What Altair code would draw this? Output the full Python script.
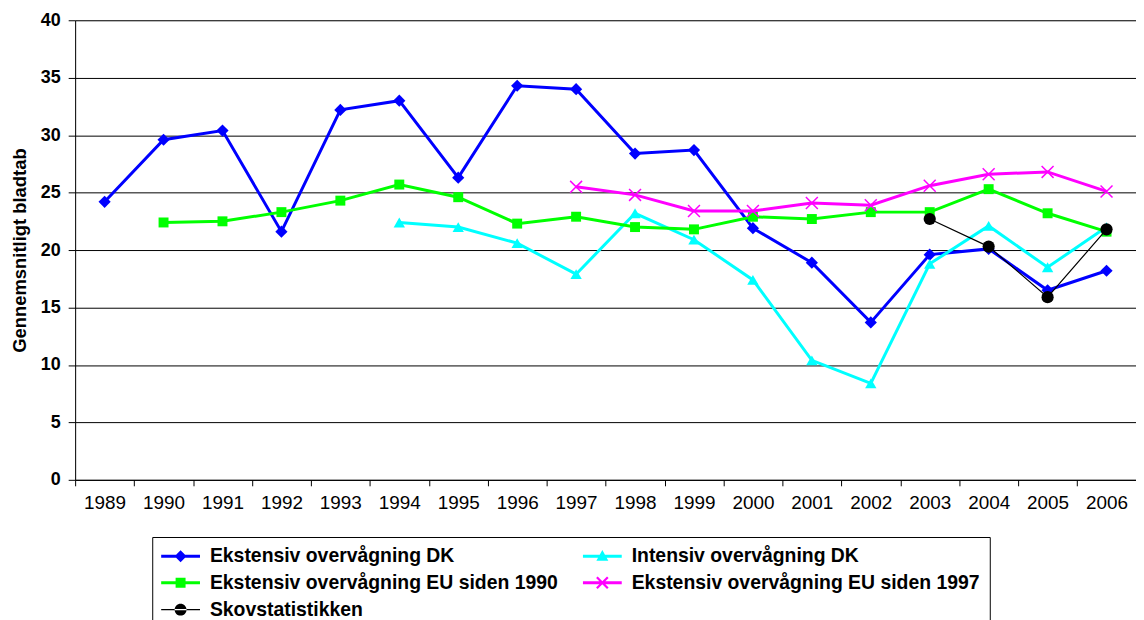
import altair as alt
import pandas as pd

years = list(range(1989, 2007))
series_names = [
    "Ekstensiv overvågning DK",
    "Intensiv overvågning DK",
    "Ekstensiv overvågning EU siden 1990",
    "Ekstensiv overvågning EU siden 1997",
    "Skovstatistikken",
]

ekst_dk = [24.2, 29.6, 30.4, 21.6, 32.2, 33.0, 26.3, 34.3, 34.0, 28.4, 28.7, 21.9, 18.9, 13.7, 19.6, 20.1, 16.5, 18.2]
intensiv_dk = [None] * 5 + [22.4, 22.0, 20.6, 17.9, 23.2, 20.9, 17.4, 10.4, 8.4, 18.8, 22.1, 18.5, 22.0]
eu_1990 = [None, 22.4, 22.5, 23.3, 24.3, 25.7, 24.6, 22.3, 22.9, 22.0, 21.8, 22.9, 22.7, 23.3, 23.3, 25.3, 23.2, 21.6]
eu_1997 = [None] * 8 + [25.5, 24.8, 23.4, 23.4, 24.1, 23.9, 25.6, 26.6, 26.8, 25.1]
skov = [None] * 14 + [22.7, 20.3, 15.9, 21.8]

y_ticks = [0, 5, 10, 15, 20, 25, 30, 35, 40]

colors = ["#0000FF", "#00FFFF", "#00FF00", "#FF00FF", "#000000"]

rows = []
for name, vals in zip(series_names, [ekst_dk, intensiv_dk, eu_1990, eu_1997, skov]):
    for yr, v in zip(years, vals):
        if v is not None:
            rows.append({"year": yr, "value": v, "series": name})
df = pd.DataFrame(rows)

FONT = "Liberation Sans"

x_enc = alt.X(
    "year:O",
    bandPosition=0.5,
    scale=alt.Scale(type="band", domain=years, paddingInner=0, paddingOuter=0),
    axis=alt.Axis(
        title=None, labelAngle=0, tickBand="extent", grid=False,
        labelFontSize=19, labelColor="black", labelFont=FONT, labelPadding=8,
        tickSize=6, tickColor="black", domainColor="black", labelOverlap=False,
    ),
)
y_enc = alt.Y(
    "value:Q",
    scale=alt.Scale(domain=[0, 40], nice=False),
    axis=alt.Axis(
        title="Gennemsnitligt bladtab", values=y_ticks, grid=True,
        gridColor="black", gridWidth=1, tickSize=7, tickColor="black",
        domainColor="black", labelFontSize=18, labelFontWeight="bold",
        labelColor="black", labelFont=FONT, labelPadding=8,
        titleFontSize=18.5, titleFontWeight="bold", titleFont=FONT, titleColor="black",
        titleX=-55.5, titleY=231, titleAngle=270, titleAlign="center", titleBaseline="middle",
    ),
)

marker_specs = {
    series_names[0]: dict(shape="diamond", size=150, filled=True),
    series_names[1]: dict(shape="triangle-up", size=130, filled=True),
    series_names[2]: dict(shape="square", size=100, filled=True),
    series_names[3]: dict(shape="M-1,-1L1,1M-1,1L1,-1", size=144, filled=False, strokeWidth=1.5),
    series_names[4]: dict(shape="circle", size=150, filled=True),
}
line_widths = [3, 3, 3, 3, 1.2]

layers = []
for name, col, lw in zip(series_names, colors, line_widths):
    base = alt.Chart(df).transform_filter(alt.datum.series == name)
    layers.append(base.mark_line(color=col, strokeWidth=lw).encode(x=x_enc, y=y_enc))
    layers.append(base.mark_point(color=col, opacity=1, **marker_specs[name]).encode(x=x_enc, y=y_enc))

legend_paths = [
    "M-1.95,-0.15H1.95V0.15H-1.95Z M0,-0.6L0.6,0L0,0.6L-0.6,0Z",
    "M-1.95,-0.15H1.95V0.15H-1.95Z M0,-0.62L0.6,0.45H-0.6Z",
    "M-1.95,-0.15H1.95V0.15H-1.95Z M-0.5,-0.5H0.5V0.5H-0.5Z",
    "M-1.95,-0.15H1.95V0.15H-1.95Z M-0.47,-0.63L0.63,0.47L0.47,0.63L-0.63,-0.47Z M0.47,-0.63L0.63,-0.47L-0.47,0.63L-0.63,0.47Z",
    "M-1.95,-0.06H1.95V0.06H-1.95Z M-0.6,0A0.6,0.6 0 1,0 0.6,0A0.6,0.6 0 1,0 -0.6,0Z",
]

legend = alt.Legend(
    title=None, orient="none", legendX=77.5, legendY=519.5, columns=2,
    direction="horizontal",
    strokeColor="black", fillColor="white", padding=9,
    symbolSize=400, symbolStrokeWidth=0, symbolOpacity=1, symbolOffset=9.5,
    labelFont=FONT, labelFontSize=19.5, labelFontWeight="bold", labelColor="black",
    labelOffset=19.5, labelLimit=600, columnPadding=24, rowPadding=7,
)

legend_layer = alt.Chart(df).mark_point(filled=True, clip=True, opacity=1).encode(
    y=alt.value(-300),
    color=alt.Color("series:N", scale=alt.Scale(domain=series_names, range=colors), legend=legend),
    shape=alt.Shape("series:N", scale=alt.Scale(domain=series_names, range=legend_paths), legend=legend),
)
layers.append(legend_layer)

chart = alt.layer(*layers).properties(
    width=1066.5, height=462,
    padding={"left": 67.5, "top": 10.7, "right": 0, "bottom": 139.3},
    autosize=alt.AutoSizeParams(type="none"),
).configure_view(stroke=None).configure(font=FONT)

chart.save("out.html", embed_options={"renderer": "svg", "actions": False})
